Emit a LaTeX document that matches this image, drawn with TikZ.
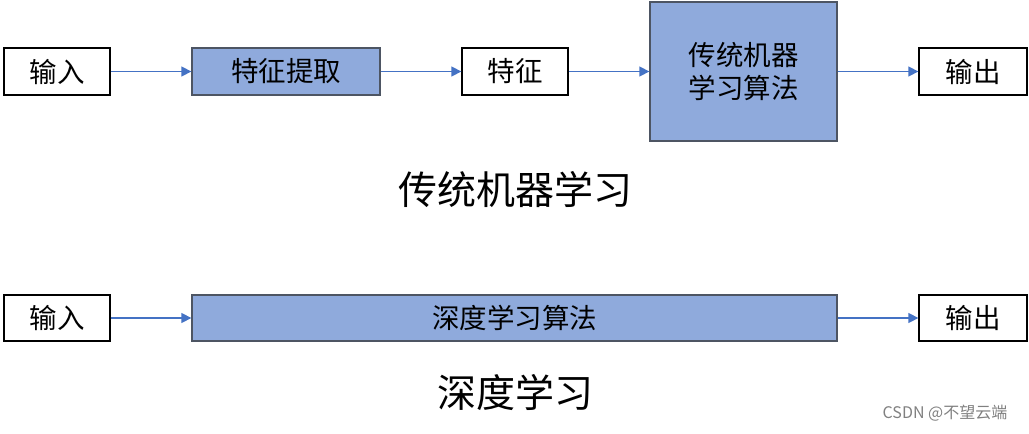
\documentclass[tikz,border=0pt]{standalone}
\usepackage{fontspec}
\newfontfamily\cjk{Noto Sans CJK SC}
\usetikzlibrary{arrows.meta}
\definecolor{boxblue}{HTML}{8FAADC}
\definecolor{arrowblue}{HTML}{4472C4}
\definecolor{edgegray}{HTML}{4D5563}
\tikzset{
  plainbox/.style={draw=black, line width=1.3pt, fill=white, inner sep=0pt},
  bluebox/.style={draw=edgegray, line width=1.3pt, fill=boxblue, inner sep=0pt},
  flow/.style={draw=arrowblue, line width=1.4pt, -{Triangle[length=10pt,width=10pt]}},
  boxtext/.style={font=\cjk\fontsize{27.5}{33}\selectfont},
  captext/.style={font=\cjk\fontsize{39}{45}\selectfont},
}
\begin{document}
\begin{tikzpicture}[x=1pt,y=-1pt]
\useasboundingbox (0,0) rectangle (1029,434);
% top row
\node[plainbox, minimum width=106pt, minimum height=47pt, boxtext] (in1) at (57,71.5) {输入};
\node[bluebox, minimum width=188pt, minimum height=47pt, boxtext] (fe) at (286,71.5) {特征提取};
\node[plainbox, minimum width=106pt, minimum height=47pt, boxtext] (feat) at (515,71.5) {特征};
\node[bluebox, minimum width=187pt, minimum height=139pt, boxtext, align=center] (ml) at (743.5,71.5) {传统机器\\学习算法};
\node[plainbox, minimum width=108pt, minimum height=47pt, boxtext] (out1) at (973,71.5) {输出};
\draw[flow] (in1) -- (fe);
\draw[flow] (fe) -- (feat);
\draw[flow] (feat) -- (ml);
\draw[flow] (ml) -- (out1);
\node[captext] (cap1) at (515,190) {传统机器学习};
% bottom row
\node[plainbox, minimum width=106pt, minimum height=46pt, boxtext] (in2) at (57,318) {输入};
\node[bluebox, minimum width=645pt, minimum height=46pt, boxtext] (dl) at (514.5,318) {深度学习算法};
\node[plainbox, minimum width=108pt, minimum height=46pt, boxtext] (out2) at (973,318) {输出};
\draw[flow] (in2) -- (dl);
\draw[flow] (dl) -- (out2);
\node[captext] (cap2) at (515,393) {深度学习};
\node[font=\cjk\fontsize{16}{18}\selectfont, text=gray] (wm) at (945,413) {CSDN @不望云端};
\end{tikzpicture}
\end{document}
